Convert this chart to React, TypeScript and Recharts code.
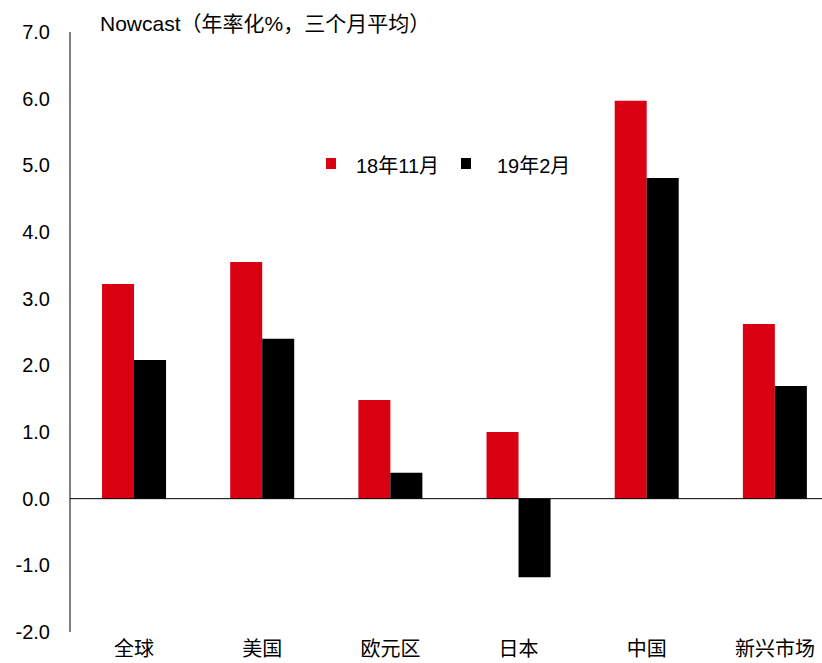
import React from "react"
import { Bar, BarChart, ReferenceLine, XAxis, YAxis } from "recharts"

const regions = ["全球", "美国", "欧元区", "日本", "中国", "新兴市场"]
const nov18 = [3.22, 3.55, 1.48, 1.0, 5.97, 2.62]
const feb19 = [2.08, 2.4, 0.39, -1.18, 4.81, 1.69]
const yTicks = [-2, -1, 0, 1, 2, 3, 4, 5, 6, 7]

const seriesNames = { nov: "18年11月", feb: "19年2月" }
const RED = "#D90012"
const BLACK = "#000000"
const FONT = "'Liberation Sans', Arial, 'Noto Sans CJK SC', sans-serif"

const data = regions.map((name, i) => ({ name, nov: nov18[i], feb: feb19[i] }))

const textStyle: React.CSSProperties = {
  position: "absolute",
  fontFamily: FONT,
  fontSize: 20,
  lineHeight: "20px",
  color: "#000",
  whiteSpace: "nowrap",
}

// legend keys placed over the plot, between the tall bars
function LegendOverlay() {
  return (
    <>
      <span style={{ position: "absolute", left: 326, top: 158, width: 10, height: 11, background: RED }} />
      <span style={{ ...textStyle, left: 356, top: 156 }}>{seriesNames.nov}</span>
      <span style={{ position: "absolute", left: 461, top: 158, width: 10, height: 11, background: BLACK }} />
      <span style={{ ...textStyle, left: 497, top: 156 }}>{seriesNames.feb}</span>
    </>
  )
}

export default function App() {
  return (
    <div style={{ position: "absolute", left: 0, top: 0, width: 822, height: 663, overflow: "hidden", background: "#fff" }}>
      <BarChart
        width={839}
        height={663}
        data={data}
        margin={{ top: 32, right: 0, left: 0, bottom: 0 }}
        barGap={0}
        barCategoryGap="25%"
      >
        <XAxis
          dataKey="name"
          axisLine={false}
          tickLine={false}
          height={31}
          tickMargin={4}
          tick={{ fill: "#000", fontSize: 20, fontFamily: FONT }}
          interval={0}
        />
        <YAxis
          width={70}
          domain={[-2, 7]}
          ticks={yTicks}
          interval={0}
          tickFormatter={(v) => Number(v).toFixed(1)}
          axisLine={{ stroke: "#000", strokeWidth: 1 }}
          tickLine={false}
          tickMargin={14}
          tick={{ fill: "#000", fontSize: 20, fontFamily: FONT }}
        />
        <ReferenceLine y={0} stroke="#000" strokeWidth={1} />
        <Bar dataKey="nov" name={seriesNames.nov} fill={RED} isAnimationActive={false} />
        <Bar dataKey="feb" name={seriesNames.feb} fill={BLACK} isAnimationActive={false} />
      </BarChart>
      <span style={{ ...textStyle, fontSize: 21, lineHeight: "21px", left: 100, top: 13 }}>
        Nowcast（年率化%，三个月平均）
      </span>
      <LegendOverlay />
    </div>
  )
}
